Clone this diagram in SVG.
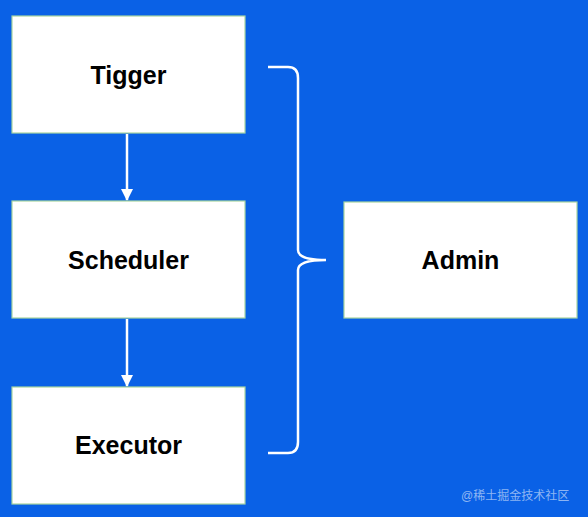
<svg xmlns="http://www.w3.org/2000/svg" width="588" height="517" viewBox="0 0 588 517">
<defs>
<style>
.box{fill:#ffffff;stroke:#a8d5a0;stroke-width:1.2}
.lbl{font-family:"Liberation Sans",Arial,sans-serif;font-size:25px;font-weight:bold;fill:#000;text-anchor:middle;dominant-baseline:central}
.edge{stroke:#ffffff;stroke-width:2.5;fill:none}
.wm{font-family:"Liberation Sans","Noto Sans CJK SC",sans-serif;font-size:12px;fill:#ffffff;fill-opacity:0.55}
</style>
<marker id="arr" markerWidth="12" markerHeight="12" refX="11" refY="6" orient="auto" markerUnits="userSpaceOnUse">
<path d="M0,0 L12,6 L0,12 Z" fill="#ffffff"/>
</marker>
</defs>
<rect width="588" height="517" fill="#0a61e6"/>
<g id="connectors">
<line class="edge" x1="127" y1="134" x2="127" y2="200" marker-end="url(#arr)"/>
<line class="edge" x1="127" y1="319" x2="127" y2="386" marker-end="url(#arr)"/>
<path class="edge" d="M268,67 L288,67 Q298,67 298,78 L298,250 Q298,260 326,260 Q298,260 298,270 L298,442 Q298,453 288,453 L268,453"/>
</g>
<g id="tigger">
<rect class="box" x="12" y="16" width="233" height="117"/>
<text class="lbl" x="128.5" y="75">Tigger</text>
</g>
<g id="scheduler">
<rect class="box" x="12" y="201" width="233" height="117"/>
<text class="lbl" x="128.5" y="260">Scheduler</text>
</g>
<g id="executor">
<rect class="box" x="12" y="387" width="233" height="117"/>
<text class="lbl" x="128.5" y="445">Executor</text>
</g>
<g id="admin">
<rect class="box" x="344" y="202" width="233" height="116"/>
<text class="lbl" x="460.5" y="260">Admin</text>
</g>
<text class="wm" x="461" y="500">@稀土掘金技术社区</text>
</svg>
